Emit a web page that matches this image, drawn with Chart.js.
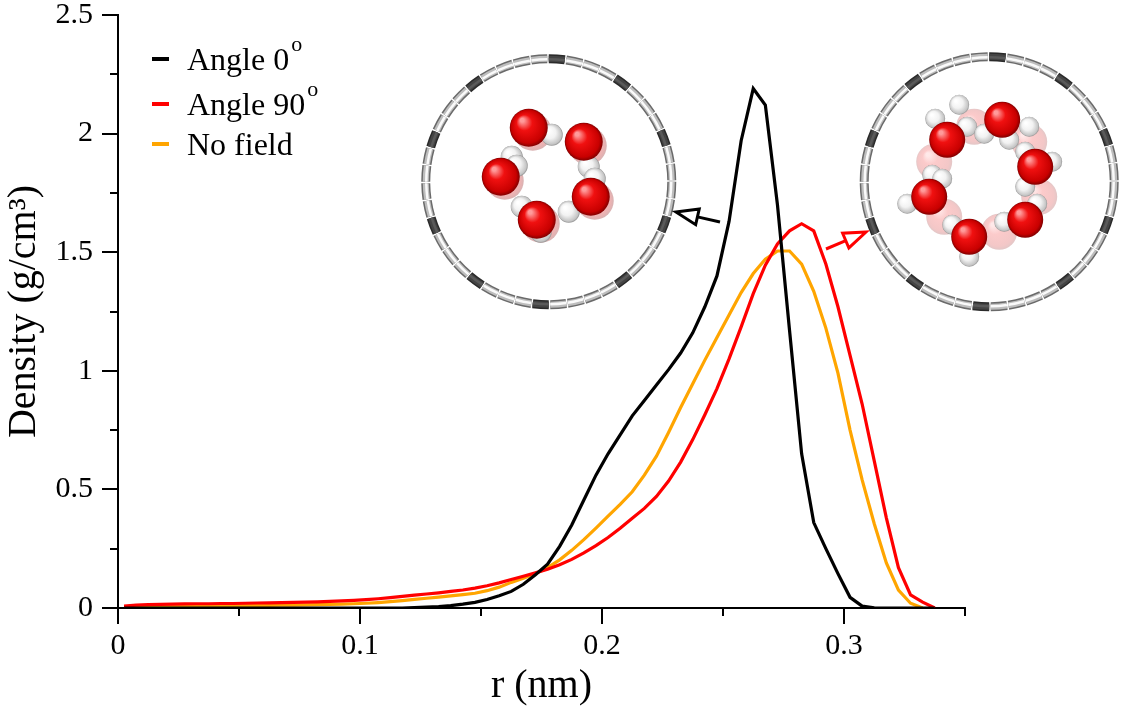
<!DOCTYPE html>
<html>
<head>
<meta charset="utf-8">
<script src="https://cdn.jsdelivr.net/npm/chart.js@4.4.1/dist/chart.umd.min.js"></script>
<style>
  html, body { margin: 0; padding: 0; background: #fff; }
  #wrap { width: 1131px; height: 710px; position: relative; }
</style>
</head>
<body>
<div id="wrap"><canvas id="c" width="1131" height="710"></canvas></div>
<script>
// ---- data ----
const rValues = [
  0.0025, 0.0075, 0.0125, 0.0175, 0.0225, 0.0275, 0.0325, 0.0375, 0.0425, 0.0475,
  0.0525, 0.0575, 0.0625, 0.0675, 0.0725, 0.0775, 0.0825, 0.0875, 0.0925, 0.0975,
  0.1025, 0.1075, 0.1125, 0.1175, 0.1225, 0.1275, 0.1325, 0.1375, 0.1425, 0.1475,
  0.1525, 0.1575, 0.1625, 0.1675, 0.1725, 0.1775, 0.1825, 0.1875, 0.1925, 0.1975,
  0.2025, 0.2075, 0.2125, 0.2175, 0.2225, 0.2275, 0.2325, 0.2375, 0.2425, 0.2475,
  0.2525, 0.2575, 0.2625, 0.2675, 0.2725, 0.2775, 0.2825, 0.2875, 0.2925, 0.2975,
  0.3025, 0.3075, 0.3125, 0.3175, 0.3225, 0.3275, 0.3325, 0.3375
];
const angle0 = [
  0, 0, 0, 0, 0, 0, 0, 0, 0, 0,
  0, 0, 0, 0, 0, 0, 0, 0, 0, 0,
  0, 0, 0, 0, 0.002, 0.004, 0.006, 0.010, 0.016, 0.024,
  0.036, 0.052, 0.070, 0.100, 0.140, 0.185, 0.26, 0.35, 0.455, 0.56,
  0.65, 0.73, 0.81, 0.875, 0.94, 1.005, 1.075, 1.16, 1.27, 1.40,
  1.63, 1.97, 2.19, 2.12, 1.70, 1.17, 0.65, 0.36, 0.25, 0.145,
  0.045, 0.008, 0.001, 0, 0, 0, 0, 0
];
const angle90 = [
  0.008, 0.012, 0.014, 0.015, 0.016, 0.017, 0.018, 0.018, 0.019, 0.019,
  0.020, 0.021, 0.022, 0.023, 0.024, 0.025, 0.026, 0.028, 0.030, 0.032,
  0.035, 0.039, 0.044, 0.049, 0.054, 0.059, 0.064, 0.070, 0.076, 0.084,
  0.094, 0.106, 0.120, 0.134, 0.148, 0.163, 0.182, 0.205, 0.232, 0.263,
  0.297, 0.336, 0.378, 0.420, 0.470, 0.535, 0.615, 0.710, 0.815, 0.925,
  1.050, 1.185, 1.325, 1.445, 1.535, 1.590, 1.620, 1.590, 1.450, 1.270,
  1.065, 0.860, 0.620, 0.380, 0.170, 0.055, 0.025, 0
];
const noField = [
  0.004, 0.006, 0.007, 0.008, 0.008, 0.009, 0.009, 0.009, 0.010, 0.010,
  0.010, 0.011, 0.011, 0.012, 0.012, 0.013, 0.014, 0.015, 0.016, 0.018,
  0.020, 0.023, 0.027, 0.031, 0.036, 0.041, 0.046, 0.051, 0.056, 0.062,
  0.073, 0.088, 0.108, 0.125, 0.145, 0.170, 0.203, 0.243, 0.288, 0.337,
  0.387, 0.437, 0.490, 0.560, 0.640, 0.740, 0.845, 0.945, 1.045, 1.140,
  1.235, 1.330, 1.410, 1.470, 1.505, 1.505, 1.450, 1.335, 1.180, 0.990,
  0.750, 0.540, 0.355, 0.190, 0.075, 0.020, 0, null
];
const seriesNames = ['Angle 0', 'Angle 90', 'No field'];
const seriesSup = ['o', 'o', ''];
const xTickLabels = ['0', '0.1', '0.2', '0.3'];
const yTickLabels = ['0', '0.5', '1', '1.5', '2', '2.5'];
const xMinorTicks = [0.05, 0.15, 0.25, 0.35];
const yMinorTicks = [0.25, 0.75, 1.25, 1.75, 2.25];
const xTitle = 'r (nm)';
const yTitle = 'Density (g/cm\u00B3)';

// ---- styles ----
const FONT = "'Liberation Serif', 'DejaVu Serif', serif";
const colors = ['#000000', '#ff0000', '#ffa500'];

function pts(vals) {
  return rValues.map((r, i) => ({ x: r, y: vals[i] }));
}

// minor ticks plugin
const minorTicks = {
  id: 'minorTicks',
  afterDraw(chart) {
    const { ctx, scales: { x, y }, chartArea } = chart;
    ctx.save();
    ctx.strokeStyle = '#000';
    ctx.lineWidth = 2;
    xMinorTicks.forEach(v => {
      const px = Math.round(x.getPixelForValue(v));
      ctx.beginPath();
      ctx.moveTo(px, chartArea.bottom);
      ctx.lineTo(px, chartArea.bottom + 8);
      ctx.stroke();
    });
    yMinorTicks.forEach(v => {
      const py = Math.round(y.getPixelForValue(v));
      ctx.beginPath();
      ctx.moveTo(chartArea.left, py);
      ctx.lineTo(chartArea.left - 8, py);
      ctx.stroke();
    });
    ctx.restore();
  }
};

// legend plugin (inside plot)
const innerLegend = {
  id: 'innerLegend',
  afterDraw(chart) {
    const { ctx, chartArea } = chart;
    const x0 = chartArea.left + 34;
    const ys = [chartArea.top + 44, chartArea.top + 89, chartArea.top + 129];
    ctx.save();
    chart.data.datasets.forEach((ds, i) => {
      const yy = ys[i];
      ctx.strokeStyle = ds.borderColor;
      ctx.lineWidth = 4;
      ctx.beginPath();
      ctx.moveTo(x0, yy);
      ctx.lineTo(x0 + 17, yy);
      ctx.stroke();
      ctx.fillStyle = '#000';
      ctx.font = '32px ' + FONT;
      ctx.textBaseline = 'alphabetic';
      ctx.textAlign = 'left';
      ctx.fillText(seriesNames[i], x0 + 35, yy + 11);
      if (seriesSup[i]) {
        const w = ctx.measureText(seriesNames[i]).width;
        ctx.font = '22px ' + FONT;
        ctx.fillText(seriesSup[i], x0 + 37 + w, yy - 8);
      }
    });
    ctx.restore();
  }
};

// inset illustrations + arrows
function sphere(ctx, cx, cy, r, kind, alpha) {
  ctx.save();
  ctx.globalAlpha = alpha == null ? 1 : alpha;
  const g = ctx.createRadialGradient(cx - r * 0.35, cy - r * 0.4, r * 0.1, cx, cy, r);
  if (kind === 'O') {
    g.addColorStop(0, '#ff9a9a');
    g.addColorStop(0.35, '#f01010');
    g.addColorStop(0.85, '#c80000');
    g.addColorStop(1, '#800000');
  } else {
    g.addColorStop(0, '#ffffff');
    g.addColorStop(0.5, '#f2f2f2');
    g.addColorStop(0.9, '#c4c4c4');
    g.addColorStop(1, '#909090');
  }
  ctx.fillStyle = g;
  ctx.beginPath();
  ctx.arc(cx, cy, r, 0, Math.PI * 2);
  ctx.fill();
  ctx.restore();
}
function tube(ctx, cx, cy, R) {
  const N = 44;
  const dark = [2, 6, 11, 15, 19, 24, 28, 33, 37, 41];
  for (let i = 0; i < N; i++) {
    const a0 = (i / N) * Math.PI * 2;
    const a1 = ((i + 1) / N) * Math.PI * 2 - 0.012;
    const isDark = dark.indexOf(i) >= 0;
    ctx.lineCap = 'butt';
    ctx.strokeStyle = isDark ? '#2a2a2a' : '#6a6a6a';
    ctx.lineWidth = 9;
    ctx.beginPath(); ctx.arc(cx, cy, R, a0, a1); ctx.stroke();
    ctx.strokeStyle = isDark ? '#444' : '#bdbdbd';
    ctx.lineWidth = 6;
    ctx.beginPath(); ctx.arc(cx, cy, R, a0, a1); ctx.stroke();
    ctx.strokeStyle = isDark ? '#5a5a5a' : '#fafafa';
    ctx.lineWidth = 2.5;
    ctx.beginPath(); ctx.arc(cx, cy, R - 0.5, a0, a1); ctx.stroke();
  }
}
function arrow(ctx, x1, y1, x2, y2, color) {
  const ang = Math.atan2(y2 - y1, x2 - x1);
  const L = 22, W = 8;
  const bx = x2 - L * Math.cos(ang), by = y2 - L * Math.sin(ang);
  ctx.save();
  ctx.strokeStyle = color;
  ctx.lineWidth = 3;
  ctx.lineJoin = 'miter';
  ctx.beginPath();
  ctx.moveTo(x1, y1); ctx.lineTo(bx, by); ctx.stroke();
  ctx.beginPath();
  ctx.moveTo(x2, y2);
  ctx.lineTo(bx + W * Math.sin(ang), by - W * Math.cos(ang));
  ctx.lineTo(bx - W * Math.sin(ang), by + W * Math.cos(ang));
  ctx.closePath();
  ctx.fillStyle = '#fff';
  ctx.fill();
  ctx.stroke();
  ctx.restore();
}
// inset anchors in data units
const insetLeft = { r: 0.1780, d: 1.797 };
const insetRight = { r: 0.3600, d: 1.797 };

const insets = {
  id: 'insets',
  afterDatasetsDraw(chart) {
    const { ctx, scales: { x, y } } = chart;
    ctx.save();
    // left inset (angle 0): five-membered ring
    let cx = x.getPixelForValue(insetLeft.r), cy = y.getPixelForValue(insetLeft.d);
    ctx.fillStyle = '#fff';
    ctx.beginPath(); ctx.arc(cx, cy, 120, 0, Math.PI * 2); ctx.fill();
    tube(ctx, cx, cy, 123);
    const lO = [[-20, -54], [35, -40], [-48, -5], [42, 15], [-12, 38]];
    const lH = [[3, -47], [40, -15], [-37, -25], [-27, 25], [20, 30], [-32, -16], [46, -3], [-8, 50]];
    lO.forEach(p => sphere(ctx, cx + p[0] + 4, cy + p[1] + 4, 19, 'O', 0.3));
    lH.forEach(p => sphere(ctx, cx + p[0], cy + p[1], 11, 'H'));
    lO.forEach(p => sphere(ctx, cx + p[0], cy + p[1], 19, 'O'));

    // right inset (angle 90): six-membered ring
    cx = x.getPixelForValue(insetRight.r); cy = y.getPixelForValue(insetRight.d);
    ctx.fillStyle = '#fff';
    ctx.beginPath(); ctx.arc(cx, cy, 122, 0, Math.PI * 2); ctx.fill();
    tube(ctx, cx, cy, 125);
    const rO = [[-42, -42], [13, -62], [46, -15], [36, 38], [-20, 55], [-60, 15]];
    const rOb = [[-15, -55], [40, -40], [50, 15], [10, 50], [-45, 35], [-55, -20]];
    const rH = [[-30, -77], [-54, -63], [-22, -55], [-5, -48], [40, -55], [20, -42], [36, -30], [63, -20],
                [36, 5], [48, 22], [15, 40], [-37, 43], [-20, 75], [-57, -7], [-82, 22], [-47, -3]];
    rOb.forEach(p => sphere(ctx, cx + p[0], cy + p[1], 18, 'O', 0.22));
    rH.forEach(p => sphere(ctx, cx + p[0], cy + p[1], 10, 'H'));
    rO.forEach(p => sphere(ctx, cx + p[0], cy + p[1], 18, 'O'));

    // arrows
    arrow(ctx, 720, 222, 676, 212, '#000');
    arrow(ctx, 826, 249, 866, 232, '#ff0000');
    ctx.restore();
  }
};

const chart = new Chart(document.getElementById('c'), {
  type: 'line',
  data: {
    datasets: [
      { label: 'Angle 0°', data: pts(angle0), borderColor: colors[0], backgroundColor: colors[0] },
      { label: 'Angle 90°', data: pts(angle90), borderColor: colors[1], backgroundColor: colors[1] },
      { label: 'No field', data: pts(noField), borderColor: colors[2], backgroundColor: colors[2] }
    ]
  },
  options: {
    responsive: false,
    animation: false,
    devicePixelRatio: 1,
    layout: { padding: { top: 15, right: 166, left: 0, bottom: 0 } },
    elements: {
      line: { borderWidth: 3.2, tension: 0, spanGaps: false },
      point: { radius: 0 }
    },
    plugins: { legend: { display: false }, tooltip: { enabled: false } },
    scales: {
      x: {
        type: 'linear',
        min: 0, max: 0.35,
        afterFit: s => { s.height = 102; s.paddingLeft = 0; s.paddingRight = 0; },
        afterBuildTicks: s => {
          s.ticks = s.ticks.filter(t => Math.abs(t.value * 10 - Math.round(t.value * 10)) < 1e-6);
        },
        ticks: {
          stepSize: 0.1,
          color: '#000',
          padding: 4,
          font: { family: FONT, size: 30 },
          maxRotation: 0,
          callback: (v) => xTickLabels[Math.round(v * 10)]
        },
        grid: { display: true, drawOnChartArea: false, drawTicks: true, tickLength: 16, color: '#000', lineWidth: 2 },
        border: { display: true, color: '#000', width: 2 },
        title: { display: true, text: xTitle, color: '#000', font: { family: FONT, size: 40 }, padding: { top: 0, bottom: 0 } }
      },
      y: {
        type: 'linear',
        min: 0, max: 2.5,
        afterFit: s => { s.width = 118; s.paddingTop = 0; s.paddingBottom = 0; },
        ticks: {
          stepSize: 0.5,
          color: '#000',
          padding: 9,
          font: { family: FONT, size: 30 },
          callback: (v) => yTickLabels[Math.round(v * 2)]
        },
        grid: { display: true, drawOnChartArea: false, drawTicks: true, tickLength: 16, color: '#000', lineWidth: 2 },
        border: { display: true, color: '#000', width: 2 },
        title: { display: true, text: yTitle, color: '#000', font: { family: FONT, size: 40 }, padding: { top: 0, bottom: 2 } }
      }
    }
  },
  plugins: [minorTicks, insets, innerLegend]
});
</script>
</body>
</html>
